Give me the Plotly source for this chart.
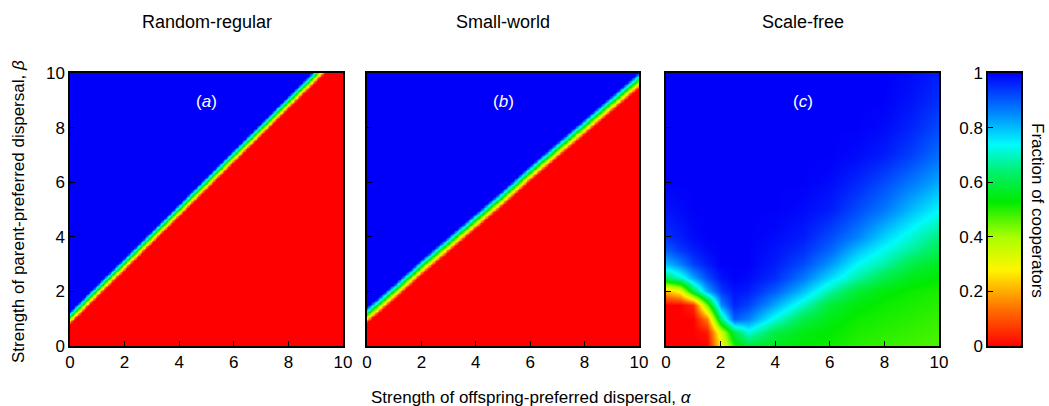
import numpy as np
import plotly.graph_objects as go

W, H = 1049, 406
FONT = "Liberation Sans, Arial, sans-serif"

# ---------------- data ----------------
panel_titles = ["Random-regular", "Small-world", "Scale-free"]
panel_labels = ["(<i>a</i>)", "(<i>b</i>)", "(<i>c</i>)"]
axis_ticks = [0, 2, 4, 6, 8, 10]
cbar_ticks = [0, 0.2, 0.4, 0.6, 0.8, 1]
cbar_ticktext = ["0", "0.2", "0.4", "0.6", "0.8", "1"]

# Panels (a), (b): position of the cooperator/defector boundary (beta) at each alpha
alpha_pts = [0, 1, 2, 3, 4, 5, 6, 7, 8, 9, 10]
boundary_a = [1.05, 2.04, 3.02, 4.01, 4.99, 5.98, 6.97, 7.95, 8.94, 9.92, 10.91]
boundary_b = [1.15, 2.00, 2.90, 3.75, 4.60, 5.45, 6.35, 7.20, 8.05, 8.90, 9.75]
width_a = 0.5   # width of the transition band
width_b = 0.6

# Panel (c): fraction of cooperators on a (non-uniform) grid
alpha_c = [0, 0.5, 1, 1.5, 2, 2.5, 3, 4, 5, 6, 7, 8, 9, 10]
beta_c = [0, 0.5, 1, 1.5, 2, 2.5, 3, 3.5, 4, 5, 6, 7, 8, 9, 10]
z_c = [
    [0.00, 0.00, 0.00, 0.00, 0.28, 0.50, 0.58, 0.55, 0.53, 0.52, 0.50, 0.49, 0.48, 0.47],
    [0.00, 0.00, 0.00, 0.03, 0.35, 0.60, 0.72, 0.60, 0.55, 0.53, 0.51, 0.50, 0.49, 0.48],
    [0.00, 0.00, 0.00, 0.15, 0.65, 0.90, 0.86, 0.72, 0.60, 0.55, 0.52, 0.51, 0.50, 0.49],
    [0.00, 0.00, 0.05, 0.45, 0.85, 0.96, 0.93, 0.82, 0.70, 0.58, 0.54, 0.52, 0.51, 0.50],
    [0.22, 0.30, 0.60, 0.82, 0.94, 0.98, 0.97, 0.90, 0.80, 0.68, 0.58, 0.54, 0.52, 0.51],
    [0.62, 0.70, 0.82, 0.92, 0.98, 1.00, 0.99, 0.95, 0.87, 0.77, 0.68, 0.60, 0.55, 0.53],
    [0.80, 0.86, 0.93, 0.97, 1.00, 1.00, 1.00, 0.97, 0.92, 0.84, 0.74, 0.68, 0.60, 0.56],
    [0.90, 0.94, 0.97, 0.99, 1.00, 1.00, 1.00, 0.98, 0.95, 0.89, 0.80, 0.73, 0.67, 0.61],
    [0.95, 0.97, 0.99, 1.00, 1.00, 1.00, 1.00, 0.99, 0.97, 0.92, 0.86, 0.78, 0.71, 0.65],
    [0.98, 0.99, 1.00, 1.00, 1.00, 1.00, 1.00, 1.00, 0.99, 0.97, 0.92, 0.87, 0.80, 0.74],
    [1.00, 1.00, 1.00, 1.00, 1.00, 1.00, 1.00, 1.00, 1.00, 0.99, 0.96, 0.92, 0.87, 0.82],
    [1.00, 1.00, 1.00, 1.00, 1.00, 1.00, 1.00, 1.00, 1.00, 1.00, 0.99, 0.97, 0.93, 0.88],
    [1.00, 1.00, 1.00, 1.00, 1.00, 1.00, 1.00, 1.00, 1.00, 1.00, 1.00, 0.99, 0.96, 0.92],
    [1.00, 1.00, 1.00, 1.00, 1.00, 1.00, 1.00, 1.00, 1.00, 1.00, 1.00, 1.00, 0.98, 0.95],
    [1.00, 1.00, 1.00, 1.00, 1.00, 1.00, 1.00, 1.00, 1.00, 1.00, 1.00, 1.00, 0.99, 0.97],
]

# colour-bar gradient levels
cbar_levels = [0, 1]

# ---------------- build grids for (a), (b) ----------------
grid = np.linspace(0, 10, 201)
A, B = np.meshgrid(grid, grid)


def ramp(boundary, width):
    bnd = np.interp(grid, alpha_pts, boundary)
    return np.clip(0.5 + (B - bnd[None, :]) / width, 0, 1)


z_a = ramp(boundary_a, width_a)
z_b = ramp(boundary_b, width_b)

colorscale = [
    [0.00, "rgb(255,0,0)"],
    [0.14, "rgb(255,115,0)"],
    [0.28, "rgb(255,245,0)"],
    [0.40, "rgb(170,255,0)"],
    [0.53, "rgb(0,235,0)"],
    [0.64, "rgb(0,240,110)"],
    [0.74, "rgb(0,250,250)"],
    [0.86, "rgb(0,130,255)"],
    [1.00, "rgb(0,0,250)"],
]

# ---------------- layout geometry ----------------
def px_x(p):
    return p / W


def px_y(p):
    return 1 - p / H


y_dom = [px_y(346), px_y(73)]
x_doms = [[px_x(70), px_x(343)], [px_x(367), px_x(639)], [px_x(666), px_x(939)]]
cb_dom = [px_x(988), px_x(1021)]

fig = go.Figure()

hm_common = dict(colorscale=colorscale, zmin=0, zmax=1, showscale=False, hoverinfo="skip",
                 zsmooth="best")
fig.add_trace(go.Heatmap(z=z_a, x=grid, y=grid, xaxis="x", yaxis="y", **hm_common))
fig.add_trace(go.Heatmap(z=z_b, x=grid, y=grid, xaxis="x2", yaxis="y2", **hm_common))
fig.add_trace(go.Heatmap(z=z_c, x=alpha_c, y=beta_c, xaxis="x3", yaxis="y3", **hm_common))
fig.add_trace(go.Heatmap(z=[[v, v] for v in cbar_levels], x=[0, 1], y=cbar_levels,
                         xaxis="x4", yaxis="y4", **hm_common))

tickfont = dict(family=FONT, size=17, color="black")
frame = dict(showline=True, mirror=True, linecolor="black", linewidth=1.5,
             ticks="inside", ticklen=5, tickwidth=1.2, tickcolor="black",
             showgrid=False, zeroline=False, tickfont=tickfont, automargin=False)

layout = dict(
    width=W, height=H,
    margin=dict(l=0, r=0, t=0, b=0),
    paper_bgcolor="white", plot_bgcolor="white",
    showlegend=False,
    font=dict(family=FONT, color="black"),
)
for i in range(3):
    sx = "" if i == 0 else str(i + 1)
    layout["xaxis" + sx] = dict(domain=x_doms[i], range=[0, 10], tickvals=axis_ticks,
                                anchor="y" + sx, **frame)
    layout["yaxis" + sx] = dict(domain=y_dom, range=[0, 10], tickvals=axis_ticks,
                                anchor="x" + sx, showticklabels=(i == 0), **frame)
layout["xaxis4"] = dict(domain=cb_dom, range=[0, 1], anchor="y4", showline=True, mirror=True,
                        linecolor="black", linewidth=1.5, showticklabels=False, ticks="",
                        showgrid=False, zeroline=False)
layout["yaxis4"] = dict(domain=y_dom, range=[0, 1], anchor="x4", tickvals=cbar_ticks,
                        ticktext=cbar_ticktext, **frame)
fig.update_layout(**layout)

ann = []
title_font = dict(family=FONT, size=18, color="black")
for i in range(3):
    ann.append(dict(text=panel_titles[i], x=sum(x_doms[i]) / 2, y=px_y(22), xref="paper",
                    yref="paper", showarrow=False, font=title_font, xanchor="center",
                    yanchor="middle"))
    sx = "" if i == 0 else str(i + 1)
    ann.append(dict(text=panel_labels[i], x=5, y=8.95, xref="x" + sx, yref="y" + sx,
                    showarrow=False, font=dict(family=FONT, size=17, color="white"),
                    xanchor="center", yanchor="middle"))
ann.append(dict(text="Strength of offspring-preferred dispersal, <i>α</i>", x=px_x(531),
                y=px_y(397), xref="paper", yref="paper", showarrow=False,
                font=dict(family=FONT, size=17, color="black"), xanchor="center", yanchor="middle"))
ann.append(dict(text="Strength of parent-preferred dispersal, <i>β</i>", x=px_x(18),
                y=px_y(212), xref="paper", yref="paper", showarrow=False, textangle=-90,
                font=dict(family=FONT, size=17, color="black"), xanchor="center", yanchor="middle"))
ann.append(dict(text="Fraction of cooperators", x=px_x(1038), y=px_y(210), xref="paper",
                yref="paper", showarrow=False, textangle=90,
                font=dict(family=FONT, size=17, color="black"), xanchor="center", yanchor="middle"))
fig.update_layout(annotations=ann)

fig.write_html("out.html")
